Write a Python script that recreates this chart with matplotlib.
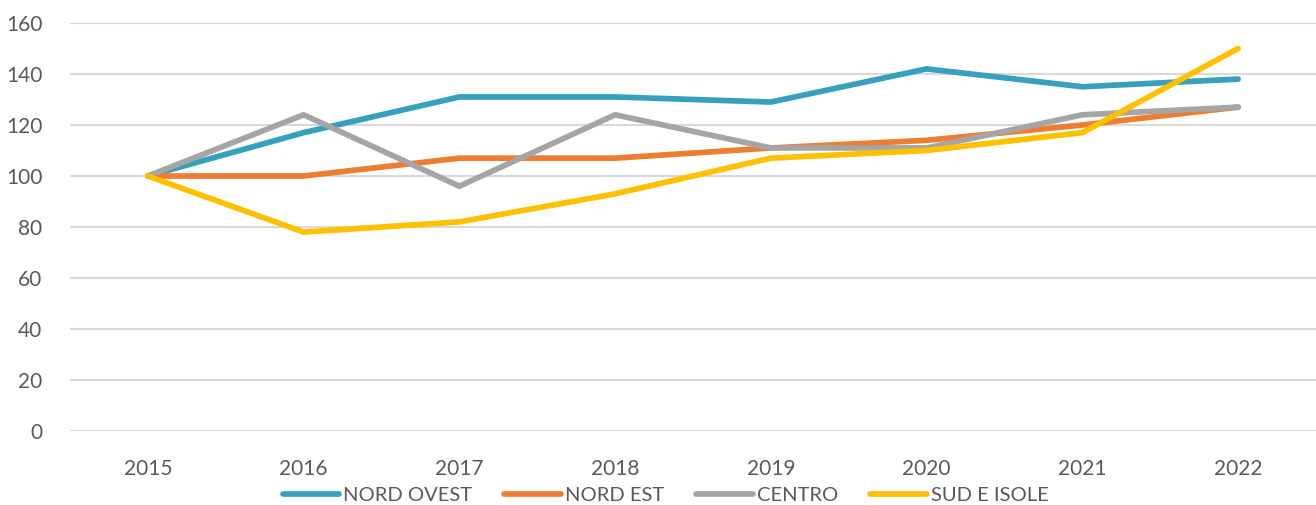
import matplotlib.pyplot as plt

plt.rcParams['font.family'] = ['Lato', 'DejaVu Sans']

years = ['2015', '2016', '2017', '2018', '2019', '2020', '2021', '2022']
nord_ovest = [100, 117, 131, 131, 129, 142, 135, 138]
nord_est = [100, 100, 107, 107, 111, 114, 120, 127]
centro = [100, 124, 96, 124, 111, 111, 124, 127]
sud_isole = [100, 78, 82, 93, 107, 110, 117, 150]

series = [
    ('NORD OVEST', nord_ovest, '#36A0BD'),
    ('NORD EST', nord_est, '#ED7D31'),
    ('CENTRO', centro, '#A5A5A5'),
    ('SUD E ISOLE', sud_isole, '#FFC000'),
]

fig = plt.figure(figsize=(13.16, 5.05), dpi=100)
ax = fig.add_axes([70 / 1316, 74 / 505, 1246 / 1316, 408 / 505])

x = range(len(years))
for name, vals, col in series:
    ax.plot(x, vals, color=col, lw=4.1, label=name, solid_capstyle='round', solid_joinstyle='miter')

ax.set_xlim(-0.5, 7.5)
ax.set_ylim(0, 160)
ax.set_yticks(range(0, 161, 20))
ax.set_xticks(list(x))
ax.set_xticklabels(years)
ax.grid(axis='y', color='#D9D9D9', lw=1.5)
ax.set_axisbelow(True)
for s in ax.spines.values():
    s.set_visible(False)
ax.tick_params(length=0, labelsize=15, colors='#595959')
ax.tick_params(axis='y', pad=20)
ax.tick_params(axis='x', pad=20)

leg = ax.legend(loc='center', bbox_to_anchor=(0.478, -0.158), ncol=4, frameon=False,
                fontsize=14.5, handlelength=2.8, handletextpad=0.2, columnspacing=1.6)
for t in leg.get_texts():
    t.set_color('#595959')

fig.savefig('out.png', dpi=100)
